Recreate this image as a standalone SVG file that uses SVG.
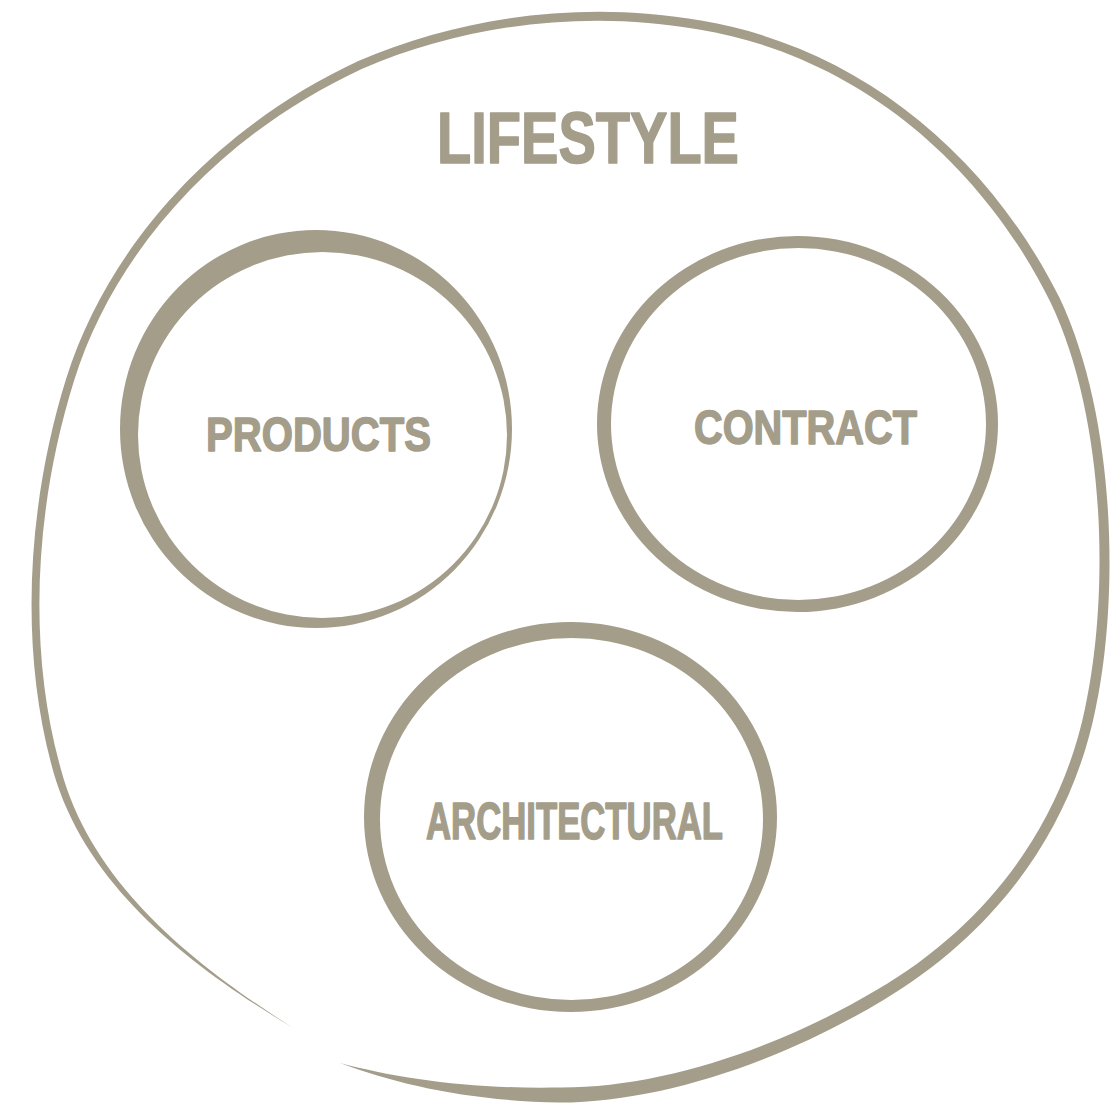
<svg xmlns="http://www.w3.org/2000/svg" width="1111" height="1109" viewBox="0 0 1111 1109">
<style>
.fl{fill:#a39d8a;fill-rule:evenodd}
.lbl{font-family:"Liberation Sans",Arial,sans-serif;font-weight:bold;fill:#a39d8a;stroke:#a39d8a;stroke-width:1.5;stroke-linejoin:round}
</style>
<rect width="1111" height="1109" fill="#ffffff"/>
<g id="lifestyle">
<path class="fl" d="M293,1028 C199.0,971.1 87.5,891.7 53.3,771.5 C18.0,645.6 28.0,501.6 66.2,378.6 C108.7,243.7 217.3,126.7 358.3,61.1 C459.1,17.7 580.1,-0.5 701.1,20.6 C852.3,45.9 983.4,146.6 1059.4,297.6 C1116.8,418.7 1119.2,600.4 1095.0,711.5 C1069.8,832.6 994.4,933.8 883.5,999.9 C782.5,1061.0 661.2,1102.1 559.9,1102.5 C468.9,1100.9 399.1,1084.9 340,1063 C400.9,1079.1 471.1,1089.1 560.1,1087.5 C658.8,1087.9 777.5,1049.0 876.5,990.1 C985.6,926.2 1060.2,827.4 1085.0,708.5 C1108.8,599.6 1107.2,421.3 1050.6,302.4 C976.6,153.4 847.7,54.1 698.9,29.4 C579.9,8.5 460.9,26.3 361.7,68.9 C222.7,133.3 115.3,248.3 73.8,381.4 C36.0,502.4 26.0,644.4 60.7,768.5 C92.5,888.3 201.0,968.9 293,1028 Z"/>
<text class="lbl" x="437" y="163" font-size="72" textLength="302" lengthAdjust="spacingAndGlyphs">LIFESTYLE</text>
</g>
<g id="products">
<path class="fl" d="M120,429 a196,199 0 1,0 392,0 a196,199 0 1,0 -392,0 Z M138,435 a184.5,183 0 1,0 369,0 a184.5,183 0 1,0 -369,0 Z"/>
<text class="lbl" x="206" y="451" font-size="49" textLength="225" lengthAdjust="spacingAndGlyphs">PRODUCTS</text>
</g>
<g id="contract">
<path class="fl" d="M597,424 a200.5,188 0 1,0 401,0 a200.5,188 0 1,0 -401,0 Z M611,424 a187.5,176 0 1,0 375,0 a187.5,176 0 1,0 -375,0 Z"/>
<text class="lbl" x="694" y="444" font-size="49" textLength="223" lengthAdjust="spacingAndGlyphs">CONTRACT</text>
</g>
<g id="architectural">
<path class="fl" d="M364,817 a206.5,195 0 1,0 413,0 a206.5,195 0 1,0 -413,0 Z M380,819 a191.5,181 0 1,0 383,0 a191.5,181 0 1,0 -383,0 Z"/>
<text class="lbl" x="426" y="839" font-size="51" textLength="297" lengthAdjust="spacingAndGlyphs">ARCHITECTURAL</text>
</g>
<g id="connectors"/>
</svg>
